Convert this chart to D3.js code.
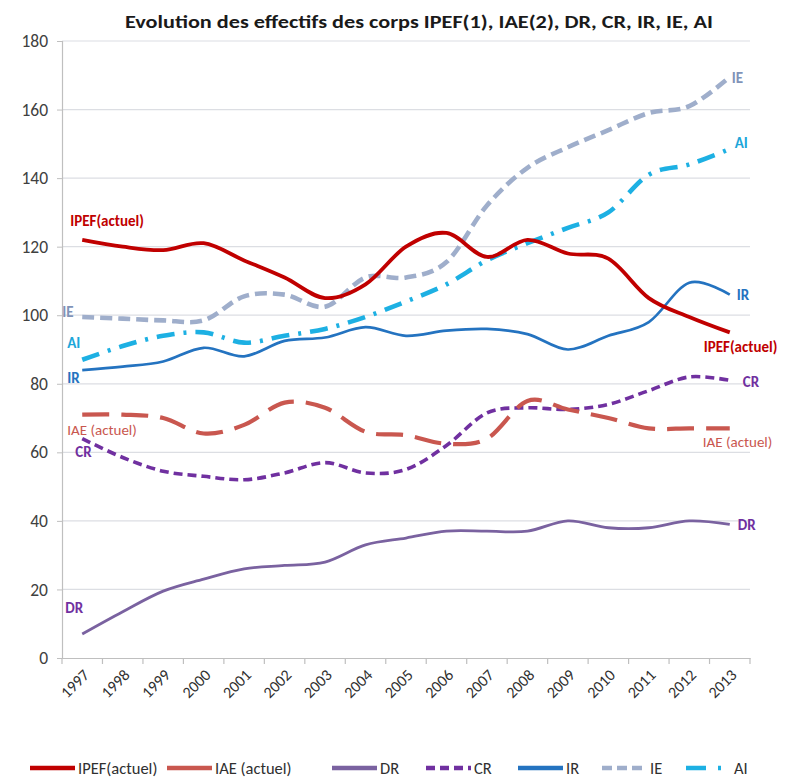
<!DOCTYPE html>
<html>
<head>
<meta charset="utf-8">
<script src="https://cdn.jsdelivr.net/npm/d3@7"></script>
<style>
  html, body { margin: 0; padding: 0; background: #fff; }
  svg { display: block; }
  text { font-family: Carlito, "Liberation Sans Narrow", "Liberation Sans", Arial, sans-serif; }
</style>
</head>
<body>
<svg id="chart" width="792" height="779"></svg>
<script>
// Années (axe des catégories)
const years = ["1997","1998","1999","2000","2001","2002","2003","2004","2005",
               "2006","2007","2008","2009","2010","2011","2012","2013"];

// Graduations de l'axe vertical
const yTicks = [0, 20, 40, 60, 80, 100, 120, 140, 160, 180];

// Effectifs par corps
const ipef = [122, 120, 119, 121, 116, 111, 105, 109, 120, 124, 117, 122, 118, 116.5, 105, 99.5, 95];
const iae  = [71, 71, 70, 65.5, 68, 74.5, 73, 66, 65, 62.5, 64, 75, 72.5, 70, 67, 67, 67];
const dr   = [7, 13.5, 19.5, 23, 26, 27, 28, 33, 35, 37, 37, 37, 40, 38, 38, 40, 39];
const cr   = [64, 58.5, 54.5, 53, 52, 54, 57, 54, 55, 62, 71.5, 73, 72.5, 74, 78, 82, 81];
const ir   = [84, 85, 86.5, 90.5, 88, 92.5, 93.5, 96.5, 94, 95.5, 96, 94.5, 90, 94, 98, 109.5, 106];
const ie   = [99.5, 99, 98.5, 98.5, 105.5, 106, 102.5, 111, 111, 115.5, 132, 143, 149, 154, 159, 161, 169.5];
const ai   = [87, 91, 94, 95, 92, 94, 96, 99.5, 104, 109, 116, 121, 125.5, 130, 141, 144, 148.5];

const seriesNames = ["IPEF(actuel)", "IAE (actuel)", "DR", "CR", "IR", "IE", "AI"];
const seriesValues = [ipef, iae, dr, cr, ir, ie, ai];

const title = "Evolution des effectifs des corps IPEF(1), IAE(2), DR, CR, IR, IE, AI";

// Apparence de chaque courbe et position de ses étiquettes (début / fin)
const styles = {
  "IPEF(actuel)": { stroke: "#C00000", width: 3.8, dash: null, label: "#C00000", bold: true,
                    start: [-12, -19], end: [-26, 14] },
  "IAE (actuel)": { stroke: "#C9574F", width: 4.2, dash: "27,12", label: "#C9574F", bold: false,
                    start: [-15, 15], end: [-27, 13] },
  "DR":           { stroke: "#7A62A0", width: 2.8, dash: null, label: "#7030A0", bold: true,
                    start: [-17, -26], end: [8, 0] },
  "CR":           { stroke: "#7030A0", width: 3.6, dash: "9,5", label: "#7030A0", bold: true,
                    start: [-7, 13], end: [13, 1] },
  "IR":           { stroke: "#2473C0", width: 2.7, dash: null, label: "#2473C0", bold: true,
                    start: [-15, 8], end: [7, 0] },
  "IE":           { stroke: "#9FAECB", width: 4.6, dash: "12,6", label: "#7F93B8", bold: true,
                    start: [-20, -5], end: [2, 1] },
  "AI":           { stroke: "#1DB0E3", width: 4.6, dash: "18,9,3,9", label: "#1CA6D9", bold: true,
                    start: [-15, -17], end: [5, -6] }
};

const svg = d3.select("#chart");
const margin = { left: 62, right: 42, top: 41, bottom: 121 };
const W = 792, H = 779;

const x = d3.scaleBand().domain(years).range([margin.left, W - margin.right]);
const y = d3.scaleLinear().domain([0, 180]).range([H - margin.bottom, margin.top]);
const cx = d => x(d) + x.bandwidth() / 2;

// Titre
svg.append("text")
  .attr("x", 419).attr("y", 28)
  .attr("text-anchor", "middle")
  .attr("font-size", 17.5).attr("font-weight", "bold")
  .attr("fill", "#1a1a1a")
  .attr("textLength", 588).attr("lengthAdjust", "spacingAndGlyphs")
  .text(title);

// Quadrillage horizontal
svg.append("g").selectAll("line")
  .data(yTicks.filter(t => t > 0))
  .join("line")
  .attr("x1", margin.left).attr("x2", W - margin.right)
  .attr("y1", d => y(d)).attr("y2", d => y(d))
  .attr("stroke", "#DCDEE3").attr("stroke-width", 1.2);

// Axe vertical
const yAxis = d3.axisLeft(y).tickValues(yTicks).tickSize(5).tickPadding(9);
const gy = svg.append("g").attr("transform", `translate(${margin.left},0)`).call(yAxis);
gy.select(".domain").attr("stroke", "#BFBFBF").attr("stroke-width", 1.2);
gy.selectAll(".tick line").attr("stroke", "#BFBFBF");
gy.selectAll(".tick text")
  .style("font-size", "17.5px").attr("fill", "#404040")
  .style("font-family", "Carlito, 'Liberation Sans', Arial, sans-serif");

// Axe horizontal (graduations entre catégories)
const xAxis = d3.axisBottom(x).tickSize(0).tickFormat("");
const gx = svg.append("g").attr("transform", `translate(0,${y(0)})`).call(xAxis);
gx.select(".domain").attr("stroke", "#BFBFBF").attr("stroke-width", 1.2);
gx.selectAll(".tick").remove();
const bounds = years.map(d => x(d)).concat([W - margin.right]);
gx.selectAll("line.sep").data(bounds).join("line")
  .attr("class", "sep")
  .attr("x1", d => d).attr("x2", d => d)
  .attr("y1", 0).attr("y2", 6)
  .attr("stroke", "#BFBFBF").attr("stroke-width", 1.2);
gx.selectAll("text.yr").data(years).join("text")
  .attr("class", "yr")
  .attr("text-anchor", "end")
  .style("font-size", "16px").attr("fill", "#303030")
  .attr("transform", d => `translate(${cx(d) + 8},${18}) rotate(-45)`)
  .text(d => d);

// Courbes lissées
const line = d3.line()
  .x((d, i) => cx(years[i]))
  .y(d => y(d))
  .curve(d3.curveCardinal.tension(0));

const drawOrder = ["DR", "CR", "IAE (actuel)", "IR", "IE", "AI", "IPEF(actuel)"];
const gLines = svg.append("g");
drawOrder.forEach(name => {
  const vals = seriesValues[seriesNames.indexOf(name)];
  const s = styles[name];
  gLines.append("path")
    .datum(vals)
    .attr("d", line)
    .attr("fill", "none")
    .attr("stroke", s.stroke)
    .attr("stroke-width", s.width)
    .attr("stroke-dasharray", s.dash)
    .attr("stroke-linejoin", "round");
});

// Étiquettes au début et à la fin de chaque courbe
const gLabels = svg.append("g");
seriesNames.forEach((name, k) => {
  const vals = seriesValues[k];
  const s = styles[name];
  const first = [cx(years[0]), y(vals[0])];
  const last = [cx(years[years.length - 1]), y(vals[vals.length - 1])];
  [[first, s.start], [last, s.end]].forEach(([p, off]) => {
    gLabels.append("text")
      .attr("x", p[0] + off[0]).attr("y", p[1] + off[1])
      .attr("dy", "0.35em")
      .attr("font-size", 15)
      .attr("font-weight", s.bold ? "bold" : "normal")
      .attr("fill", s.label)
      .text(name);
  });
});

// Légende
const legendItems = [
  { name: "IPEF(actuel)", x: 30 },
  { name: "IAE (actuel)", x: 167 },
  { name: "DR", x: 332 },
  { name: "CR", x: 426 },
  { name: "IR", x: 518 },
  { name: "IE", x: 602 },
  { name: "AI", x: 686 }
];
const legendDash = {
  "IAE (actuel)": null,
  "CR": "9,5",
  "IE": "10,5",
  "AI": "20,12,3,12"
};
const gLeg = svg.append("g").attr("transform", "translate(0,768)");
legendItems.forEach(it => {
  const s = styles[it.name];
  gLeg.append("line")
    .attr("x1", it.x).attr("x2", it.x + 45)
    .attr("y1", 0).attr("y2", 0)
    .attr("stroke", s.stroke)
    .attr("stroke-width", 4.5)
    .attr("stroke-dasharray", legendDash[it.name] !== undefined ? legendDash[it.name] : null);
  gLeg.append("text")
    .attr("x", it.x + 48).attr("y", 0).attr("dy", "0.35em")
    .attr("font-size", 16.5).attr("fill", "#303030")
    .text(it.name);
});
</script>
</body>
</html>
